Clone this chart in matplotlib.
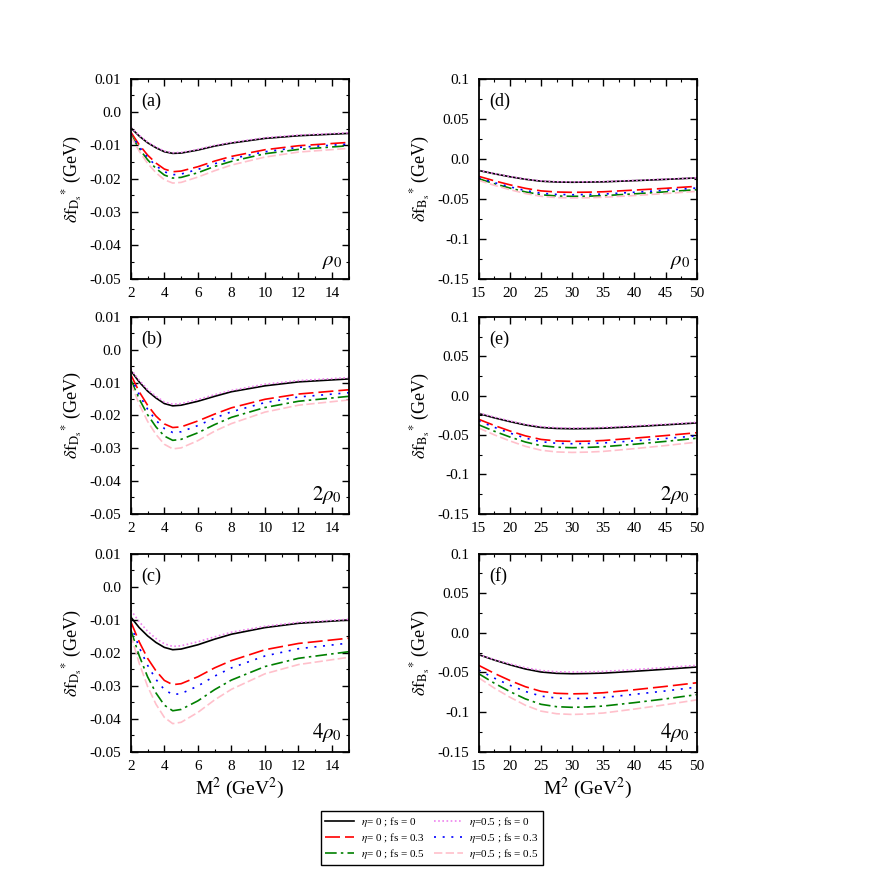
import matplotlib
matplotlib.use("Agg")
import matplotlib.pyplot as plt
from matplotlib.ticker import MultipleLocator, FixedLocator, FixedFormatter

plt.rcParams['font.family'] = ['Liberation Serif', 'DejaVu Serif']
plt.rcParams['mathtext.fontset'] = 'stix'

# ---- data: D_s* panels (M^2 in GeV^2) ----
m2_d = [2, 2.5, 3, 3.5, 4, 4.5, 5, 6, 7, 8, 10, 12, 15]

# panel (a), rho0
a_eta0_fs0   = [-0.0047, -0.0072, -0.0092, -0.0107, -0.0119, -0.0124, -0.0123, -0.0114, -0.0102, -0.0093, -0.0079, -0.0071, -0.0064]
a_eta0_fs03  = [-0.0060, -0.0098, -0.0129, -0.0153, -0.0171, -0.0179, -0.0177, -0.0164, -0.0147, -0.0133, -0.0113, -0.0101, -0.0091]
a_eta0_fs05  = [-0.0068, -0.0110, -0.0143, -0.0169, -0.0189, -0.0198, -0.0196, -0.0182, -0.0163, -0.0148, -0.0125, -0.0112, -0.0101]
a_eta05_fs0  = [-0.0045, -0.0070, -0.0090, -0.0105, -0.0117, -0.0122, -0.0121, -0.0112, -0.0100, -0.0091, -0.0077, -0.0069, -0.0062]
a_eta05_fs03 = [-0.0065, -0.0104, -0.0136, -0.0161, -0.0179, -0.0188, -0.0186, -0.0172, -0.0155, -0.0140, -0.0119, -0.0106, -0.0096]
a_eta05_fs05 = [-0.0072, -0.0117, -0.0154, -0.0182, -0.0203, -0.0213, -0.0211, -0.0195, -0.0176, -0.0159, -0.0135, -0.0120, -0.0109]

# panel (b), 2 rho0
b_eta0_fs0   = [-0.0064, -0.0098, -0.0126, -0.0147, -0.0164, -0.0171, -0.0169, -0.0157, -0.0142, -0.0128, -0.0110, -0.0098, -0.0089]
b_eta0_fs03  = [-0.0076, -0.0128, -0.0169, -0.0202, -0.0226, -0.0237, -0.0235, -0.0217, -0.0196, -0.0177, -0.0151, -0.0135, -0.0122]
b_eta0_fs05  = [-0.0091, -0.0150, -0.0198, -0.0235, -0.0263, -0.0276, -0.0273, -0.0253, -0.0228, -0.0206, -0.0176, -0.0157, -0.0142]
b_eta05_fs0  = [-0.0059, -0.0093, -0.0121, -0.0142, -0.0159, -0.0166, -0.0164, -0.0152, -0.0137, -0.0124, -0.0105, -0.0094, -0.0085]
b_eta05_fs03 = [-0.0083, -0.0137, -0.0181, -0.0215, -0.0240, -0.0252, -0.0250, -0.0231, -0.0208, -0.0189, -0.0161, -0.0144, -0.0131]
b_eta05_fs05 = [-0.0102, -0.0166, -0.0218, -0.0258, -0.0288, -0.0302, -0.0299, -0.0277, -0.0248, -0.0225, -0.0190, -0.0169, -0.0153]

# panel (c), 4 rho0
c_eta0_fs0   = [-0.0092, -0.0124, -0.0149, -0.0169, -0.0184, -0.0191, -0.0189, -0.0176, -0.0159, -0.0144, -0.0124, -0.0111, -0.0101]
c_eta0_fs03  = [-0.0106, -0.0167, -0.0217, -0.0255, -0.0284, -0.0297, -0.0294, -0.0273, -0.0246, -0.0224, -0.0191, -0.0172, -0.0156]
c_eta0_fs05  = [-0.0131, -0.0209, -0.0273, -0.0322, -0.0359, -0.0376, -0.0372, -0.0346, -0.0312, -0.0283, -0.0242, -0.0217, -0.0197]
c_eta05_fs0  = [-0.0071, -0.0106, -0.0135, -0.0157, -0.0173, -0.0181, -0.0179, -0.0167, -0.0152, -0.0138, -0.0120, -0.0108, -0.0099]
c_eta05_fs03 = [-0.0116, -0.0184, -0.0238, -0.0281, -0.0312, -0.0327, -0.0324, -0.0301, -0.0271, -0.0246, -0.0210, -0.0188, -0.0171]
c_eta05_fs05 = [-0.0146, -0.0232, -0.0302, -0.0356, -0.0396, -0.0415, -0.0411, -0.0381, -0.0343, -0.0311, -0.0264, -0.0236, -0.0214]

# ---- data: B_s* panels ----
m2_b = [15, 17.5, 20, 22.5, 25, 27.5, 30, 32.5, 35, 40, 45, 50]

d_eta0_fs0   = [-0.0147, -0.0188, -0.0225, -0.0257, -0.0281, -0.0291, -0.0294, -0.0292, -0.0289, -0.0274, -0.0258, -0.0240]
d_eta0_fs03  = [-0.0220, -0.0276, -0.0326, -0.0370, -0.0402, -0.0416, -0.0420, -0.0418, -0.0413, -0.0392, -0.0370, -0.0345]
d_eta0_fs05  = [-0.0250, -0.0312, -0.0367, -0.0415, -0.0450, -0.0466, -0.0470, -0.0468, -0.0462, -0.0439, -0.0414, -0.0387]
d_eta05_fs0  = [-0.0145, -0.0186, -0.0222, -0.0254, -0.0277, -0.0287, -0.0290, -0.0288, -0.0285, -0.0271, -0.0255, -0.0238]
d_eta05_fs03 = [-0.0240, -0.0299, -0.0351, -0.0398, -0.0431, -0.0446, -0.0450, -0.0447, -0.0442, -0.0419, -0.0394, -0.0366]
d_eta05_fs05 = [-0.0270, -0.0332, -0.0387, -0.0435, -0.0470, -0.0486, -0.0490, -0.0488, -0.0482, -0.0460, -0.0435, -0.0408]

e_eta0_fs0   = [-0.0227, -0.0281, -0.0329, -0.0372, -0.0403, -0.0416, -0.0420, -0.0418, -0.0413, -0.0393, -0.0370, -0.0346]
e_eta0_fs03  = [-0.0300, -0.0378, -0.0448, -0.0510, -0.0555, -0.0574, -0.0580, -0.0577, -0.0569, -0.0539, -0.0506, -0.0470]
e_eta0_fs05  = [-0.0370, -0.0451, -0.0524, -0.0588, -0.0634, -0.0654, -0.0660, -0.0656, -0.0648, -0.0616, -0.0580, -0.0540]
e_eta05_fs0  = [-0.0220, -0.0273, -0.0321, -0.0363, -0.0393, -0.0406, -0.0410, -0.0408, -0.0403, -0.0383, -0.0362, -0.0338]
e_eta05_fs03 = [-0.0320, -0.0401, -0.0474, -0.0538, -0.0584, -0.0604, -0.0610, -0.0607, -0.0600, -0.0573, -0.0543, -0.0510]
e_eta05_fs05 = [-0.0410, -0.0497, -0.0574, -0.0643, -0.0692, -0.0714, -0.0720, -0.0716, -0.0707, -0.0672, -0.0633, -0.0590]

f_eta0_fs0   = [-0.0275, -0.0343, -0.0403, -0.0456, -0.0494, -0.0511, -0.0516, -0.0513, -0.0508, -0.0485, -0.0459, -0.0431]
f_eta0_fs03  = [-0.0410, -0.0511, -0.0601, -0.0680, -0.0738, -0.0763, -0.0770, -0.0766, -0.0756, -0.0718, -0.0676, -0.0630]
f_eta0_fs05  = [-0.0516, -0.0635, -0.0741, -0.0834, -0.0902, -0.0932, -0.0940, -0.0935, -0.0924, -0.0881, -0.0833, -0.0780]
f_eta05_fs0  = [-0.0275, -0.0337, -0.0392, -0.0440, -0.0475, -0.0491, -0.0495, -0.0492, -0.0487, -0.0464, -0.0438, -0.0410]
f_eta05_fs03 = [-0.0470, -0.0571, -0.0661, -0.0740, -0.0798, -0.0823, -0.0830, -0.0826, -0.0816, -0.0776, -0.0733, -0.0685]
f_eta05_fs05 = [-0.0567, -0.0697, -0.0812, -0.0914, -0.0988, -0.1021, -0.1030, -0.1024, -0.1012, -0.0962, -0.0907, -0.0846]

series_labels = [r"$\eta$= 0 ; fs = 0", r"$\eta$= 0 ; fs = 0.3", r"$\eta$= 0 ; fs = 0.5",
                 r"$\eta$=0.5 ; fs = 0", r"$\eta$=0.5 ; fs = 0.3", r"$\eta$=0.5 ; fs = 0.5"]
panel_tags = ["(a)", "(b)", "(c)", "(d)", "(e)", "(f)"]
density_tags = [r"$\rho_0$", r"$2\rho_0$", r"$4\rho_0$"]

d_yticks = [0.01, 0.0, -0.01, -0.02, -0.03, -0.04, -0.05]
d_yticklabels = ["0.01", "0.0", "-0.01", "-0.02", "-0.03", "-0.04", "-0.05"]
b_yticks = [0.1, 0.05, 0.0, -0.05, -0.1, -0.15]
b_yticklabels = ["0.1", "0.05", "0.0", "-0.05", "-0.1", "-0.15"]

# line styles in the order of series_labels
styles = [
    dict(color='black', ls='-'),
    dict(color='red', dashes=(9, 3)),
    dict(color='green', dashes=(7, 2.5, 1.5, 2.5)),
    dict(color='violet', dashes=(1, 1.5)),
    dict(color='blue', dashes=(1.2, 4)),
    dict(color='pink', dashes=(5, 2)),
]

fig = plt.figure(figsize=(8.72, 8.71), dpi=100)

W = 0.250
rows_y = [(0.680, 0.2296), (0.410, 0.2262), (0.137, 0.2273)]
cols_x = [0.150, 0.549]

left_data = [
    [a_eta0_fs0, a_eta0_fs03, a_eta0_fs05, a_eta05_fs0, a_eta05_fs03, a_eta05_fs05],
    [b_eta0_fs0, b_eta0_fs03, b_eta0_fs05, b_eta05_fs0, b_eta05_fs03, b_eta05_fs05],
    [c_eta0_fs0, c_eta0_fs03, c_eta0_fs05, c_eta05_fs0, c_eta05_fs03, c_eta05_fs05],
]
right_data = [
    [d_eta0_fs0, d_eta0_fs03, d_eta0_fs05, d_eta05_fs0, d_eta05_fs03, d_eta05_fs05],
    [e_eta0_fs0, e_eta0_fs03, e_eta0_fs05, e_eta05_fs0, e_eta05_fs03, e_eta05_fs05],
    [f_eta0_fs0, f_eta0_fs03, f_eta0_fs05, f_eta05_fs0, f_eta05_fs03, f_eta05_fs05],
]

handles = []
for row in range(3):
    y0, h = rows_y[row]
    for col in range(2):
        ax = fig.add_axes([cols_x[col], y0, W, h])
        if col == 0:
            xs, curves = m2_d, left_data[row]
            ax.set_xlim(2, 15)
            ax.set_ylim(-0.05, 0.01)
            ax.xaxis.set_major_locator(MultipleLocator(2))
            ax.xaxis.set_minor_locator(MultipleLocator(1))
            ax.yaxis.set_major_locator(FixedLocator(d_yticks))
            ax.yaxis.set_major_formatter(FixedFormatter(d_yticklabels))
            ax.yaxis.set_minor_locator(MultipleLocator(0.005))
            ax.set_ylabel(r"$\delta\mathrm{f}_{\mathrm{D_s}}{}^{*}$ (GeV)", fontsize=13, labelpad=4)
        else:
            xs, curves = m2_b, right_data[row]
            ax.set_xlim(15, 50)
            ax.set_ylim(-0.15, 0.1)
            ax.xaxis.set_major_locator(MultipleLocator(5))
            ax.xaxis.set_minor_locator(MultipleLocator(2.5))
            ax.yaxis.set_major_locator(FixedLocator(b_yticks))
            ax.yaxis.set_major_formatter(FixedFormatter(b_yticklabels))
            ax.yaxis.set_minor_locator(MultipleLocator(0.025))
            ax.set_ylabel(r"$\delta\mathrm{f}_{\mathrm{B_s}}{}^{*}$ (GeV)", fontsize=13, labelpad=4)

        lines = []
        for vals, st, lab in zip(curves, styles, series_labels):
            ln, = ax.plot(xs, vals, lw=1.2, label=lab, **st)
            lines.append(ln)
        if not handles:
            handles = lines

        ax.tick_params(which='both', direction='in', top=True, right=True, labelsize=11)
        ax.tick_params(which='major', length=5, width=1)
        ax.tick_params(axis='y', which='major', pad=7)
        ax.tick_params(axis='x', which='major', pad=6)
        ax.tick_params(which='minor', length=2.5, width=0.8)
        for sp in ax.spines.values():
            sp.set_linewidth(1.3)

        ax.text(0.05, 0.93, panel_tags[col * 3 + row], transform=ax.transAxes,
                fontsize=13, va='top', ha='left')
        ax.text(0.97, 0.04, density_tags[row], transform=ax.transAxes,
                fontsize=15, va='bottom', ha='right')

        if row == 2:
            ax.set_xlabel(r"M$^2$ (GeV$^2$)", fontsize=14, labelpad=2)

fig.legend(handles=handles, labels=series_labels, ncol=2, loc='center',
           bbox_to_anchor=(432 / 872, 1 - 838 / 871), fontsize=8,
           frameon=True, fancybox=False, edgecolor='black', framealpha=1,
           handlelength=2.6, columnspacing=0.8, labelspacing=0.15,
           borderpad=0.35, handletextpad=0.6)

fig.savefig("out.png", dpi=100)
